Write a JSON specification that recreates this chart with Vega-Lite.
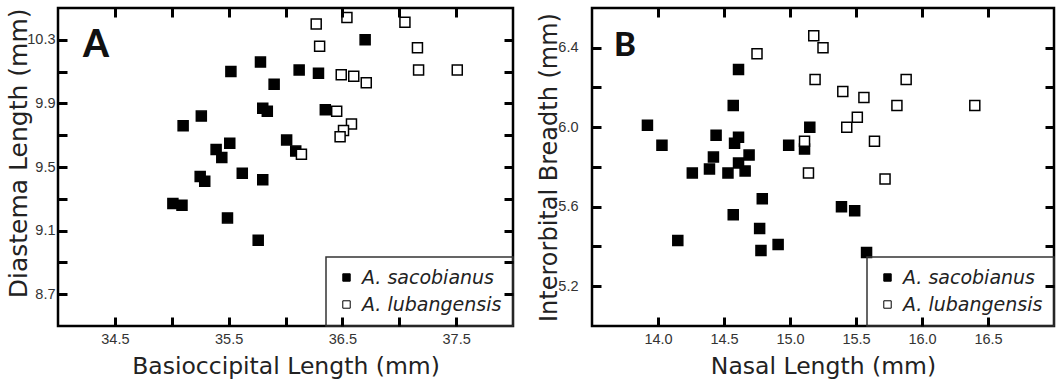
{
  "$schema": "https://vega.github.io/schema/vega-lite/v6.json",
  "background": "white",
  "padding": {"left": 5, "top": 5, "right": 0, "bottom": 0},
  "spacing": 20,
  "datasets": {
    "A": [
      {"bl": 35.52, "dl": 10.10, "species": "A. sacobianus"},
      {"bl": 35.78, "dl": 10.16, "species": "A. sacobianus"},
      {"bl": 35.90, "dl": 10.02, "species": "A. sacobianus"},
      {"bl": 36.12, "dl": 10.11, "species": "A. sacobianus"},
      {"bl": 35.80, "dl": 9.87, "species": "A. sacobianus"},
      {"bl": 35.84, "dl": 9.85, "species": "A. sacobianus"},
      {"bl": 35.26, "dl": 9.82, "species": "A. sacobianus"},
      {"bl": 35.10, "dl": 9.76, "species": "A. sacobianus"},
      {"bl": 35.51, "dl": 9.65, "species": "A. sacobianus"},
      {"bl": 35.39, "dl": 9.61, "species": "A. sacobianus"},
      {"bl": 35.44, "dl": 9.56, "species": "A. sacobianus"},
      {"bl": 36.01, "dl": 9.67, "species": "A. sacobianus"},
      {"bl": 36.09, "dl": 9.60, "species": "A. sacobianus"},
      {"bl": 35.25, "dl": 9.44, "species": "A. sacobianus"},
      {"bl": 35.29, "dl": 9.41, "species": "A. sacobianus"},
      {"bl": 35.62, "dl": 9.46, "species": "A. sacobianus"},
      {"bl": 35.80, "dl": 9.42, "species": "A. sacobianus"},
      {"bl": 35.01, "dl": 9.27, "species": "A. sacobianus"},
      {"bl": 35.09, "dl": 9.26, "species": "A. sacobianus"},
      {"bl": 35.49, "dl": 9.18, "species": "A. sacobianus"},
      {"bl": 35.76, "dl": 9.04, "species": "A. sacobianus"},
      {"bl": 36.70, "dl": 10.30, "species": "A. sacobianus"},
      {"bl": 36.29, "dl": 10.09, "species": "A. sacobianus"},
      {"bl": 36.35, "dl": 9.86, "species": "A. sacobianus"},
      {"bl": 36.27, "dl": 10.40, "species": "A. lubangensis"},
      {"bl": 36.54, "dl": 10.44, "species": "A. lubangensis"},
      {"bl": 37.05, "dl": 10.41, "species": "A. lubangensis"},
      {"bl": 36.30, "dl": 10.26, "species": "A. lubangensis"},
      {"bl": 37.16, "dl": 10.25, "species": "A. lubangensis"},
      {"bl": 37.17, "dl": 10.11, "species": "A. lubangensis"},
      {"bl": 37.51, "dl": 10.11, "species": "A. lubangensis"},
      {"bl": 36.49, "dl": 10.08, "species": "A. lubangensis"},
      {"bl": 36.60, "dl": 10.07, "species": "A. lubangensis"},
      {"bl": 36.71, "dl": 10.03, "species": "A. lubangensis"},
      {"bl": 36.45, "dl": 9.85, "species": "A. lubangensis"},
      {"bl": 36.58, "dl": 9.77, "species": "A. lubangensis"},
      {"bl": 36.51, "dl": 9.73, "species": "A. lubangensis"},
      {"bl": 36.48, "dl": 9.69, "species": "A. lubangensis"},
      {"bl": 36.14, "dl": 9.58, "species": "A. lubangensis"}
    ],
    "B": [
      {"nl": 14.61, "ib": 6.29, "species": "A. sacobianus"},
      {"nl": 14.57, "ib": 6.11, "species": "A. sacobianus"},
      {"nl": 13.92, "ib": 6.01, "species": "A. sacobianus"},
      {"nl": 14.03, "ib": 5.91, "species": "A. sacobianus"},
      {"nl": 14.44, "ib": 5.96, "species": "A. sacobianus"},
      {"nl": 14.61, "ib": 5.95, "species": "A. sacobianus"},
      {"nl": 14.58, "ib": 5.92, "species": "A. sacobianus"},
      {"nl": 15.15, "ib": 6.00, "species": "A. sacobianus"},
      {"nl": 14.99, "ib": 5.91, "species": "A. sacobianus"},
      {"nl": 15.11, "ib": 5.89, "species": "A. sacobianus"},
      {"nl": 14.42, "ib": 5.85, "species": "A. sacobianus"},
      {"nl": 14.69, "ib": 5.86, "species": "A. sacobianus"},
      {"nl": 14.39, "ib": 5.79, "species": "A. sacobianus"},
      {"nl": 14.61, "ib": 5.82, "species": "A. sacobianus"},
      {"nl": 14.26, "ib": 5.77, "species": "A. sacobianus"},
      {"nl": 14.53, "ib": 5.77, "species": "A. sacobianus"},
      {"nl": 14.66, "ib": 5.78, "species": "A. sacobianus"},
      {"nl": 14.79, "ib": 5.64, "species": "A. sacobianus"},
      {"nl": 14.57, "ib": 5.56, "species": "A. sacobianus"},
      {"nl": 14.77, "ib": 5.49, "species": "A. sacobianus"},
      {"nl": 14.15, "ib": 5.43, "species": "A. sacobianus"},
      {"nl": 14.91, "ib": 5.41, "species": "A. sacobianus"},
      {"nl": 14.78, "ib": 5.38, "species": "A. sacobianus"},
      {"nl": 15.39, "ib": 5.60, "species": "A. sacobianus"},
      {"nl": 15.49, "ib": 5.58, "species": "A. sacobianus"},
      {"nl": 15.58, "ib": 5.37, "species": "A. sacobianus"},
      {"nl": 15.18, "ib": 6.46, "species": "A. lubangensis"},
      {"nl": 15.25, "ib": 6.40, "species": "A. lubangensis"},
      {"nl": 14.75, "ib": 6.37, "species": "A. lubangensis"},
      {"nl": 15.19, "ib": 6.24, "species": "A. lubangensis"},
      {"nl": 15.11, "ib": 5.93, "species": "A. lubangensis"},
      {"nl": 15.14, "ib": 5.77, "species": "A. lubangensis"},
      {"nl": 15.88, "ib": 6.24, "species": "A. lubangensis"},
      {"nl": 15.40, "ib": 6.18, "species": "A. lubangensis"},
      {"nl": 15.56, "ib": 6.15, "species": "A. lubangensis"},
      {"nl": 15.81, "ib": 6.11, "species": "A. lubangensis"},
      {"nl": 16.40, "ib": 6.11, "species": "A. lubangensis"},
      {"nl": 15.51, "ib": 6.05, "species": "A. lubangensis"},
      {"nl": 15.43, "ib": 6.00, "species": "A. lubangensis"},
      {"nl": 15.64, "ib": 5.93, "species": "A. lubangensis"},
      {"nl": 15.72, "ib": 5.74, "species": "A. lubangensis"}
    ]
  },
  "config": {
    "view": {"stroke": "black", "strokeWidth": 2.5},
    "font": "DejaVu Sans",
    "axis": {
      "domain": false, "grid": false, "ticks": true, "zindex": 1,
      "tickColor": "black", "tickWidth": 3, "tickSize": 9, "tickOpacity": 1,
      "labelFont": "Liberation Sans", "labelFontSize": 14.5, "labelColor": "#333",
      "titleFont": "DejaVu Sans", "titleFontSize": 23.5, "titleFontWeight": "normal", "titleColor": "#222"
    },
    "axisX": {"ticks": true, "tickColor": "black", "tickWidth": 3, "tickSize": 9, "tickOpacity": 1},
    "axisY": {"ticks": true, "tickColor": "black", "tickWidth": 3, "tickSize": 9, "tickOpacity": 1},
    "legend": {
      "strokeColor": "#333", "strokeWidth": 1.5, "padding": 11,
      "labelFont": "DejaVu Sans", "labelFontStyle": "italic", "labelFontSize": 19, "labelColor": "#222",
      "symbolType": "square", "symbolSize": 55, "symbolStrokeColor": "black", "symbolStrokeWidth": 1,
      "rowPadding": 7, "labelOffset": 6, "offset": 0, "orient": "bottom-right", "labelLimit": 300
    }
  },
  "resolve": {"scale": {"fill": "independent"}, "legend": {"fill": "independent"}},
  "hconcat": [
    {
      "width": 455, "height": 318,
      "data": {"name": "A"},
      "layer": [
        {
          "mark": {"type": "point", "shape": "square", "filled": true, "size": 100, "stroke": "black", "strokeWidth": 1.5, "opacity": 1},
          "encoding": {
            "x": {"field": "bl", "type": "quantitative", "scale": {"domain": [34, 38], "nice": false, "zero": false},
                  "axis": {"title": "Basioccipital Length (mm)", "values": [34.5, 35, 35.5, 36, 36.5, 37, 37.5], "format": ".1f",
                           "labelExpr": "indexof(['34.5','35.5','36.5','37.5'], datum.label) >= 0 ? datum.label : ''",
                           "ticks": true, "tickColor": "black", "tickWidth": 3, "tickSize": 9, "tickOpacity": 1, "zindex": 2,
                           "offset": -9, "labelPadding": 6, "titlePadding": 9}},
            "y": {"field": "dl", "type": "quantitative", "scale": {"domain": [8.5, 10.5], "nice": false, "zero": false},
                  "axis": {"title": "Diastema Length (mm)", "values": [8.7, 8.9, 9.1, 9.3, 9.5, 9.7, 9.9, 10.1, 10.3], "format": ".1f",
                           "labelExpr": "indexof(['8.7','9.1','9.5','9.9','10.3'], datum.label) >= 0 ? datum.label : ''",
                           "ticks": true, "tickColor": "black", "tickWidth": 3, "tickSize": 9, "tickOpacity": 1, "zindex": 2,
                           "offset": -9, "labelPadding": 3, "titlePadding": -5, "titleAnchor": "end", "titleFontSize": 25}},
            "fill": {"field": "species", "type": "nominal",
                     "scale": {"domain": ["A. sacobianus", "A. lubangensis"], "range": ["black", "white"]},
                     "legend": {"title": null}}
          }
        },
        {
          "mark": {"type": "point", "opacity": 0},
          "encoding": {
            "x": {"field": "bl", "type": "quantitative", "scale": {"domain": [34, 38], "nice": false, "zero": false},
                  "axis": {"orient": "top", "labels": false, "title": null, "offset": -9, "values": [34.5, 35, 35.5, 36, 36.5, 37, 37.5],
                           "ticks": true, "tickColor": "black", "tickWidth": 3, "tickSize": 9, "tickOpacity": 1, "zindex": 2}},
            "y": {"field": "dl", "type": "quantitative", "scale": {"domain": [8.5, 10.5], "nice": false, "zero": false},
                  "axis": {"orient": "right", "labels": false, "title": null, "offset": -9, "values": [8.7, 8.9, 9.1, 9.3, 9.5, 9.7, 9.9, 10.1, 10.3],
                           "ticks": true, "tickColor": "black", "tickWidth": 3, "tickSize": 9, "tickOpacity": 1, "zindex": 2}}
          }
        },
        {
          "data": {"values": [{"panel": "A"}]},
          "mark": {"type": "text", "font": "Lato", "fontWeight": 900, "fontSize": 37, "color": "#111", "align": "left", "baseline": "alphabetic"},
          "encoding": {
            "text": {"field": "panel"},
            "x": {"datum": 34.22, "type": "quantitative", "axis": null},
            "y": {"datum": 10.19, "type": "quantitative", "axis": null}
          }
        }
      ],
      "resolve": {"axis": {"x": "independent", "y": "independent"}}
    },
    {
      "width": 462, "height": 318,
      "data": {"name": "B"},
      "layer": [
        {
          "mark": {"type": "point", "shape": "square", "filled": true, "size": 100, "stroke": "black", "strokeWidth": 1.5, "opacity": 1},
          "encoding": {
            "x": {"field": "nl", "type": "quantitative", "scale": {"domain": [13.5, 17], "nice": false, "zero": false},
                  "axis": {"title": "Nasal Length (mm)", "values": [14, 14.5, 15, 15.5, 16, 16.5], "format": ".1f",
                           "ticks": true, "tickColor": "black", "tickWidth": 3, "tickSize": 9, "tickOpacity": 1, "zindex": 2,
                           "offset": -9, "labelPadding": 6, "titlePadding": 9}},
            "y": {"field": "ib", "type": "quantitative", "scale": {"domain": [5.0, 6.6], "nice": false, "zero": false},
                  "axis": {"title": "Interorbital Breadth (mm)", "values": [5.2, 5.4, 5.6, 5.8, 6.0, 6.2, 6.4], "format": ".1f",
                           "labelExpr": "indexof(['5.2','5.6','6.0','6.4'], datum.label) >= 0 ? datum.label : ''",
                           "ticks": true, "tickColor": "black", "tickWidth": 3, "tickSize": 9, "tickOpacity": 1, "zindex": 2,
                           "offset": -9, "labelPadding": 14, "titlePadding": -4, "titleFontSize": 24}},
            "fill": {"field": "species", "type": "nominal",
                     "scale": {"domain": ["A. sacobianus", "A. lubangensis"], "range": ["black", "white"]},
                     "legend": {"title": null}}
          }
        },
        {
          "mark": {"type": "point", "opacity": 0},
          "encoding": {
            "x": {"field": "nl", "type": "quantitative", "scale": {"domain": [13.5, 17], "nice": false, "zero": false},
                  "axis": {"orient": "top", "labels": false, "title": null, "offset": -9, "values": [14, 14.5, 15, 15.5, 16, 16.5],
                           "ticks": true, "tickColor": "black", "tickWidth": 3, "tickSize": 9, "tickOpacity": 1, "zindex": 2}},
            "y": {"field": "ib", "type": "quantitative", "scale": {"domain": [5.0, 6.6], "nice": false, "zero": false},
                  "axis": {"orient": "right", "labels": false, "title": null, "offset": -9, "values": [5.2, 5.4, 5.6, 5.8, 6.0, 6.2, 6.4],
                           "ticks": true, "tickColor": "black", "tickWidth": 3, "tickSize": 9, "tickOpacity": 1, "zindex": 2}}
          }
        },
        {
          "data": {"values": [{"panel": "B"}]},
          "mark": {"type": "text", "font": "Lato", "fontWeight": 900, "fontSize": 33, "color": "#111", "align": "left", "baseline": "alphabetic"},
          "encoding": {
            "text": {"field": "panel"},
            "x": {"datum": 13.667, "type": "quantitative", "axis": null},
            "y": {"datum": 6.356, "type": "quantitative", "axis": null}
          }
        }
      ],
      "resolve": {"axis": {"x": "independent", "y": "independent"}}
    }
  ]
}
